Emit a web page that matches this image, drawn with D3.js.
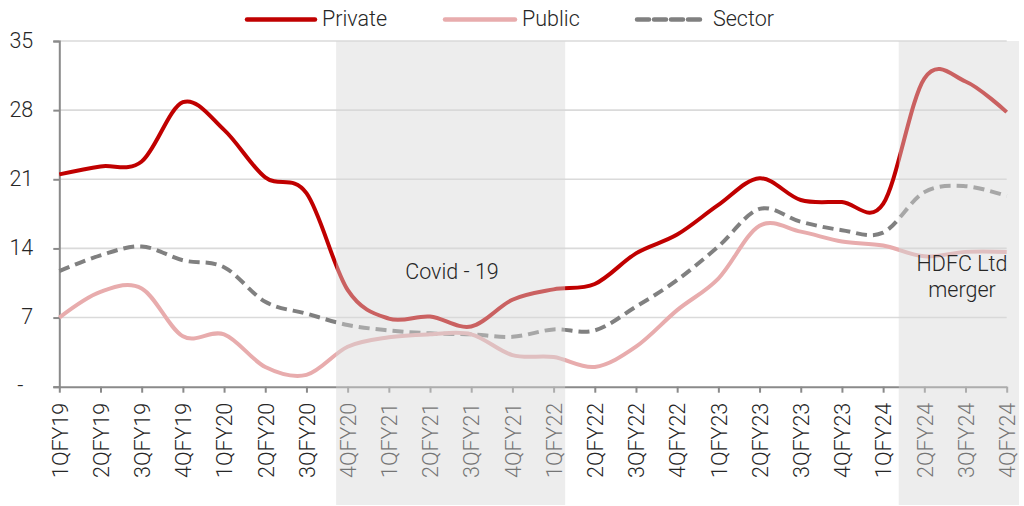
<!DOCTYPE html>
<html>
<head>
<meta charset="utf-8">
<script src="https://cdn.jsdelivr.net/npm/d3@7"></script>
<style>
  html, body { margin: 0; padding: 0; background: #fff; }
  svg { display: block; font-family: Roboto, "Noto Sans", sans-serif; font-weight: 300; }
</style>
</head>
<body>
<svg id="chart" width="1024" height="506"></svg>
<script>
// Quarterly series, FY19 to FY24
const quarters = [
  "1QFY19","2QFY19","3QFY19","4QFY19",
  "1QFY20","2QFY20","3QFY20","4QFY20",
  "1QFY21","2QFY21","3QFY21","4QFY21",
  "1QFY22","2QFY22","3QFY22","4QFY22",
  "1QFY23","2QFY23","3QFY23","4QFY23",
  "1QFY24","2QFY24","3QFY24","4QFY24"
];
const privateVals = [21.5, 22.3, 22.8, 28.8, 26.0, 21.2, 19.6, 9.8, 6.9, 7.1, 6.1, 8.8,
                     9.85, 10.4, 13.5, 15.4, 18.4, 21.1, 18.9, 18.7, 18.5, 31.2, 30.9, 27.8];
const publicVals  = [7.0, 9.6, 9.95, 5.1, 5.3, 2.0, 1.2, 4.05, 5.0, 5.3, 5.3, 3.2,
                     3.0, 2.0, 4.05, 7.75, 10.95, 16.3, 15.7, 14.7, 14.3, 13.2, 13.65, 13.65];
const sectorVals  = [11.7, 13.3, 14.2, 12.8, 12.1, 8.6, 7.4, 6.25, 5.7, 5.4, 5.3, 5.05,
                     5.8, 5.7, 8.1, 10.8, 14.2, 18.0, 16.7, 15.85, 15.6, 19.7, 20.3, 19.3];
const yTicks = [0, 7, 14, 21, 28, 35];
const seriesNames = ["Private", "Public", "Sector"];
// Highlighted periods, in quarter-index units
const periods = [
  { from: 6.72, to: 12.28, label: ["Covid - 19"] },
  { from: 20.38, to: 23.3, label: ["HDFC Ltd", "merger"] }
];

const svg = d3.select("#chart");
const plotLeft = 59.3, plotRight = 1006.7, plotTop = 41, plotBottom = 386.7;
const fontSize = "21.5px";

const x = d3.scalePoint().domain(quarters).range([plotLeft, plotRight]).padding(0);
const xi = d3.scaleLinear().domain([0, quarters.length - 1]).range([plotLeft, plotRight]);
const y = d3.scaleLinear().domain([0, 35]).range([plotBottom, plotTop]);

const ink = "#262626";
const axisGrey = "#8a8a8a";

// Gridlines
svg.append("g")
  .selectAll("line")
  .data(yTicks.filter(d => d > 0))
  .join("line")
  .attr("x1", plotLeft).attr("x2", plotRight)
  .attr("y1", d => y(d)).attr("y2", d => y(d))
  .attr("stroke", "#dadada").attr("stroke-width", 1.6);

// Y axis
const yAxis = svg.append("g")
  .attr("transform", `translate(${plotLeft},0)`)
  .call(d3.axisLeft(y).tickValues(yTicks).tickSize(6).tickPadding(20)
    .tickFormat(d => d === 0 ? "-" : d));
yAxis.select(".domain").attr("stroke", axisGrey).attr("stroke-width", 2);
yAxis.selectAll(".tick line").attr("stroke", axisGrey).attr("stroke-width", 2);
yAxis.selectAll(".tick text")
  .attr("fill", ink).style("font-size", fontSize).style("font-family", "Roboto").style("font-weight", 300)
  .attr("dy", "0.28em");
yAxis.selectAll(".tick").filter(d => d === 0).select("text").attr("x", -36);

// X axis
const xAxis = svg.append("g")
  .attr("transform", `translate(0,${plotBottom})`)
  .call(d3.axisBottom(x).tickSize(6).tickSizeOuter(0).tickPadding(10));
xAxis.select(".domain").attr("stroke", axisGrey).attr("stroke-width", 2);
xAxis.selectAll(".tick line").attr("stroke", axisGrey).attr("stroke-width", 2);
xAxis.selectAll(".tick text")
  .attr("fill", ink).style("font-size", fontSize).style("font-family", "Roboto").style("font-weight", 300)
  .attr("transform", "rotate(-90)")
  .attr("text-anchor", "end")
  .attr("x", -16).attr("y", 0).attr("dy", "0.36em");

// Lines
const line = d3.line()
  .x((d, i) => x(quarters[i]))
  .y(d => y(d))
  .curve(d3.curveCardinal.tension(0));

const series = [
  { name: "Sector", values: sectorVals, color: "#808080", dash: "11,6" },
  { name: "Public", values: publicVals, color: "#e8acad", dash: null },
  { name: "Private", values: privateVals, color: "#c00000", dash: null }
];
series.forEach(s => {
  svg.append("path")
    .datum(s.values)
    .attr("d", line)
    .attr("fill", "none")
    .attr("stroke", s.color)
    .attr("stroke-width", 4)
    .attr("stroke-dasharray", s.dash)
    .attr("stroke-linejoin", "round");
});

// Translucent shading over the highlighted periods
svg.append("g")
  .selectAll("rect")
  .data(periods)
  .join("rect")
  .attr("x", d => xi(d.from))
  .attr("width", d => xi(d.to) - xi(d.from))
  .attr("y", plotTop)
  .attr("height", 505 - plotTop)
  .attr("fill", "#d8d8d8")
  .attr("fill-opacity", 0.45);

// Period notes
const notePos = [{ cx: 452, y0: 279 }, { cx: 962, y0: 271 }];
periods.forEach((p, k) => {
  const t = svg.append("text")
    .attr("text-anchor", "middle")
    .attr("fill", ink)
    .style("font-size", fontSize);
  p.label.forEach((ln, j) => {
    t.append("tspan").attr("x", notePos[k].cx).attr("y", notePos[k].y0 + j * 26).text(ln);
  });
});

// Legend
const legend = [
  { name: seriesNames[0], color: "#c00000", dash: null, x0: 247, x1: 315, tx: 322 },
  { name: seriesNames[1], color: "#e8acad", dash: null, x0: 445, x1: 515, tx: 522 },
  { name: seriesNames[2], color: "#808080", dash: "12,5", x0: 637, x1: 705, tx: 713 }
];
const lg = svg.append("g");
legend.forEach(l => {
  lg.append("line")
    .attr("x1", l.x0).attr("x2", l.x1).attr("y1", 19.5).attr("y2", 19.5)
    .attr("stroke", l.color).attr("stroke-width", 4.5)
    .attr("stroke-linecap", "round")
    .attr("stroke-dasharray", l.dash);
  lg.append("text")
    .attr("x", l.tx).attr("y", 26)
    .attr("fill", ink).style("font-size", fontSize)
    .text(l.name);
});
</script>
</body>
</html>
